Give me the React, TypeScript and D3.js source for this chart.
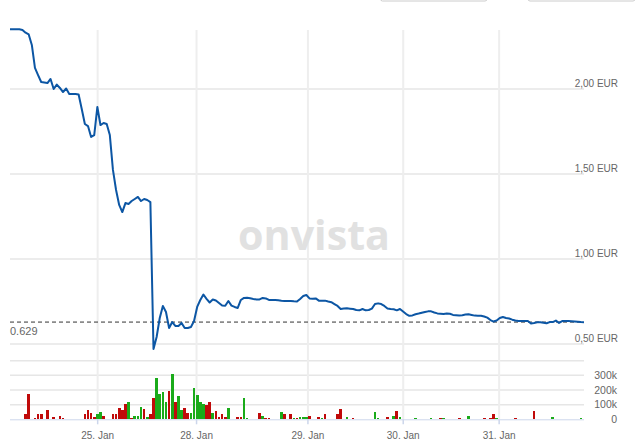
import React from "react";
import * as d3 from "d3";

// Price quotes, one per half-hour trading slot (EUR)
const priceValues: number[] = [
  2.351, 2.351, 2.351, 2.351, 2.347, 2.331, 2.321, 2.259, 2.124, 2.082,
  2.041, 2.038, 2.035, 2.059, 2.0, 2.026, 2.006, 1.982, 2.003, 1.971,
  1.971, 1.971, 1.968, 1.882, 1.794, 1.782, 1.718, 1.729, 1.894, 1.788,
  1.8, 1.794, 1.729, 1.524, 1.406, 1.318, 1.276, 1.329, 1.324, 1.341,
  1.353, 1.365, 1.341, 1.353, 1.347, 1.335, 0.471, 0.541, 0.653, 0.724,
  0.688, 0.594, 0.629, 0.606, 0.606, 0.624, 0.594, 0.594, 0.6, 0.635,
  0.718, 0.759, 0.791, 0.765, 0.744, 0.762, 0.756, 0.741, 0.726, 0.725,
  0.753, 0.726, 0.718, 0.712, 0.759, 0.771, 0.772, 0.769, 0.765, 0.762,
  0.762, 0.771, 0.768, 0.759, 0.759, 0.759, 0.757, 0.754, 0.753, 0.753,
  0.753, 0.751, 0.75, 0.765, 0.782, 0.788, 0.768, 0.766, 0.768, 0.755,
  0.755, 0.755, 0.75, 0.746, 0.735, 0.724, 0.706, 0.709, 0.71, 0.708,
  0.706, 0.7, 0.698, 0.706, 0.698, 0.7, 0.708, 0.735, 0.739, 0.735,
  0.724, 0.709, 0.706, 0.704, 0.698, 0.706, 0.691, 0.676, 0.666, 0.668,
  0.675, 0.679, 0.684, 0.688, 0.692, 0.692, 0.685, 0.68, 0.678, 0.676,
  0.679, 0.678, 0.671, 0.669, 0.667, 0.669, 0.673, 0.675, 0.671, 0.667,
  0.666, 0.666, 0.662, 0.655, 0.641, 0.632, 0.638, 0.653, 0.659, 0.653,
  0.65, 0.643, 0.638, 0.635, 0.635, 0.635, 0.635, 0.621, 0.624, 0.628,
  0.628, 0.625, 0.622, 0.629, 0.629, 0.638, 0.624, 0.635, 0.636, 0.635,
  0.634, 0.633, 0.631, 0.629, 0.628,
];

// Volume bars: slot index, traded volume, direction (u = up/green, d = down/red)
const volumeSlots: number[] = [
  5, 6, 8, 9, 10, 12, 14, 16, 17,
  24, 25, 26, 27, 28, 29, 30,
  33, 34, 35, 36, 37, 38, 39, 40, 41, 42, 43, 44, 45, 46, 47, 48, 49, 50,
  51, 52, 53, 54, 55, 56, 57, 58, 59, 60, 61, 62, 63, 64,
  65, 66, 67, 68, 69, 70, 73, 74, 75, 76,
  80, 81, 82, 83, 87, 88, 90, 91, 92, 93, 94, 95, 96,
  99, 100, 101, 105, 106, 108, 110, 117, 118, 121, 123, 124, 125,
  130, 135, 138, 139, 144, 147, 152, 154, 155, 156, 162, 168, 174, 183,
];
const volumeValues: number[] = [
  34000, 173000, 10000, 34000, 34000, 61000, 18000, 25000, 9000,
  34000, 61000, 41000, 16000, 34000, 48000, 25000,
  34000, 34000, 77000, 61000, 107000, 120000, 9000, 25000, 25000, 84000, 70000, 18000, 34000, 146000, 280000, 173000, 186000, 120000,
  196000, 310000, 116000, 159000, 61000, 77000, 41000, 41000, 212000, 168000, 120000, 107000, 100000, 120000,
  41000, 55000, 16000, 34000, 18000, 77000, 16000, 16000, 146000, 7000,
  41000, 25000, 9000, 9000, 48000, 34000, 34000, 9000, 7000, 16000, 16000, 16000, 25000,
  16000, 7000, 34000, 34000, 70000, 18000, 9000, 48000, 7000, 16000, 25000, 55000, 16000,
  7000, 7000, 7000, 7000, 7000, 25000, 7000, 7000, 34000, 7000, 7000, 55000, 16000, 7000,
];
const volumeDirs: string[] = [
  "d", "d", "d", "d", "d", "d", "d", "d", "d",
  "d", "d", "d", "d", "u", "u", "d",
  "d", "d", "d", "d", "d", "u", "d", "u", "u", "u", "d", "u", "d", "d", "u", "u", "u", "u",
  "d", "u", "d", "u", "u", "d", "d", "u", "u", "u", "u", "u", "d", "d",
  "u", "d", "d", "d", "d", "u", "d", "d", "u", "u",
  "d", "u", "d", "d", "u", "d", "d", "u", "d", "u", "u", "u", "d",
  "d", "u", "d", "d", "d", "u", "d", "u", "u", "d", "u", "d", "u",
  "u", "u", "d", "u", "d", "u", "d", "d", "d", "u", "d", "d", "u", "u",
];

const dateTickLabels: string[] = ["25. Jan", "28. Jan", "29. Jan", "30. Jan", "31. Jan"];
const dateTickSlots: number[] = [28.1, 59.8, 95.5, 126.05, 156.8];
const priceTicks: number[] = [0.5, 1.0, 1.5, 2.0];
const volumeTicks: number[] = [0, 100000, 200000, 300000, 400000];
const volumeTickLabels: string[] = ["0", "100k", "200k", "300k", ""];
const referencePrice = 0.629;

const W = 637;
const H = 444;
const LEFT = 10;
const RIGHT = 584;
const PLOT_TOP = 30;
const FONT = "'Liberation Sans', Arial, Helvetica, sans-serif";

export default function App() {
  const x = d3.scaleLinear().domain([0, 184]).range([LEFT, RIGHT]);
  const y = d3.scaleLinear().domain([0.5, 2.0]).range([344, 89]);
  const yv = d3.scaleLinear().domain([0, 400000]).range([419.3, 360.7]);

  const line = d3
    .line<number>()
    .x((_, i) => x(i))
    .y((d) => y(d));

  const slotW = x(1) - x(0);
  const barW = slotW * 0.86;
  const fmt = (v: number) => d3.format(".2f")(v).replace(".", ",") + " EUR";

  return (
    <svg
      width={W}
      height={H}
      style={{ position: "absolute", left: 0, top: 0, background: "#fff" }}
    >
      {/* top buttons (cut off) */}
      <rect x={380.5} y={-20} width={106.5} height={21} rx={2} fill="#fff" stroke="#cccccc" />
      <rect x={528} y={-20} width={107} height={21} rx={2} fill="#fff" stroke="#cccccc" />

      {/* horizontal price grid */}
      {priceTicks.map((t) => (
        <line key={"pg" + t} x1={LEFT} x2={RIGHT} y1={y(t)} y2={y(t)} stroke="#e6e6e6" strokeWidth={1.5} />
      ))}
      {/* volume grid */}
      {volumeTicks.slice(1).map((t) => (
        <line key={"vg" + t} x1={LEFT} x2={RIGHT} y1={yv(t)} y2={yv(t)} stroke="#e6e6e6" strokeWidth={1.5} />
      ))}
      {/* vertical grid */}
      {dateTickSlots.map((s, i) => (
        <line key={"vgx" + i} x1={x(s)} x2={x(s)} y1={PLOT_TOP} y2={yv(0)} stroke="#eeeeee" strokeWidth={2} />
      ))}

      {/* watermark */}
      <text
        x={314}
        y={250}
        textAnchor="middle"
        fontFamily="'Open Sans', 'Liberation Sans', Arial, sans-serif"
        fontWeight="bold"
        fontSize={42}
        fill="#e1e1e1"
        textLength={152}
        lengthAdjust="spacingAndGlyphs"
      >
        onvista
      </text>

      {/* volume bars */}
      {volumeSlots.map((s, i) => (
        <rect
          key={"vb" + i}
          x={x(s) - barW / 2}
          y={yv(volumeValues[i])}
          width={barW}
          height={yv(0) - yv(volumeValues[i])}
          fill={volumeDirs[i] === "u" ? "#1aab1a" : "#c00a0a"}
          shapeRendering="crispEdges"
        />
      ))}

      {/* x axis */}
      <line x1={LEFT} x2={RIGHT} y1={yv(0) + 0.5} y2={yv(0) + 0.5} stroke="#ccd6eb" strokeWidth={1} />
      {dateTickSlots.map((s, i) => (
        <g key={"xt" + i}>
          <line x1={x(s)} x2={x(s)} y1={yv(0)} y2={yv(0) + 5} stroke="#ccd6eb" strokeWidth={1.5} />
          <text
            x={x(s)}
            y={439}
            textAnchor="middle"
            fontFamily={FONT}
            fontSize={10}
            fill="#666666"
          >
            {dateTickLabels[i]}
          </text>
        </g>
      ))}

      {/* reference dashed line */}
      <line
        x1={LEFT}
        x2={RIGHT}
        y1={y(referencePrice)}
        y2={y(referencePrice)}
        stroke="#333333"
        strokeWidth={1}
        strokeDasharray="4,3"
      />
      <text x={LEFT} y={334.5} fontFamily={FONT} fontSize={11} fill="#666666">
        {String(referencePrice)}
      </text>

      {/* price line */}
      <path d={line(priceValues) || ""} fill="none" stroke="#0c56a4" strokeWidth={2} strokeLinejoin="round" />

      {/* price axis labels */}
      {priceTicks.map((t) => (
        <text
          key={"pl" + t}
          x={618}
          y={y(t) - 2.5}
          textAnchor="end"
          fontFamily={FONT}
          fontSize={10}
          fill="#666666"
        >
          {fmt(t)}
        </text>
      ))}
      {/* volume axis labels */}
      {volumeTicks.map((t, i) => (
        <text
          key={"vl" + t}
          x={617}
          y={yv(t) + 3.8}
          textAnchor="end"
          fontFamily={FONT}
          fontSize={10.5}
          fill="#666666"
        >
          {volumeTickLabels[i]}
        </text>
      ))}
    </svg>
  );
}
